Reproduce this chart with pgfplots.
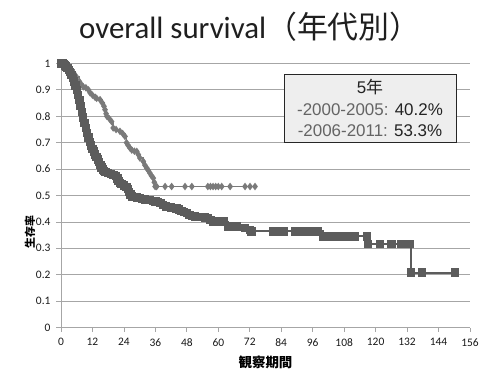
\documentclass[border=0pt]{standalone}
\usepackage{fontspec}
\setmainfont{Carlito}
\newfontfamily\cjk{Noto Sans CJK JP}
\newfontfamily\arial{Liberation Sans}
\usepackage{pgfplots}
\pgfplotsset{compat=1.18}
\definecolor{darkser}{RGB}{92,92,92}
\definecolor{lightser}{RGB}{122,122,122}
\definecolor{gridc}{RGB}{166,166,166}
\definecolor{boxfill}{RGB}{238,238,238}
\definecolor{txtgray}{RGB}{100,100,100}
\definecolor{txtdark}{RGB}{35,35,35}

\pgfplotstableread{
m s
0 1.0
0.5 1.0
1 0.997
1.5 0.993
2 0.988
2.5 0.983
3 0.976
3.5 0.967
4 0.957
4.5 0.946
5 0.932
5.5 0.917
6 0.9
6.5 0.881
7 0.861
7.5 0.84
8 0.816
8.5 0.795
9 0.775
9.5 0.755
10 0.736
10.5 0.72
11 0.702
11.5 0.69
12 0.677
12.5 0.666
13 0.656
13.5 0.646
14 0.636
14.5 0.626
15 0.616
15.5 0.606
16 0.598
16.5 0.592
17 0.589
18 0.585
19 0.582
20 0.578
21 0.574
21.5 0.565
22 0.555
22.5 0.547
23 0.543
24 0.538
25 0.532
25.5 0.524
26 0.514
26.5 0.504
27 0.496
28 0.494
29 0.492
30 0.49
31 0.487
32 0.485
33 0.484
34 0.482
35 0.48
36 0.478
37 0.475
38 0.471
39 0.463
40 0.458
41 0.456
42 0.455
43 0.453
44 0.451
45 0.447
46 0.442
47 0.437
48 0.433
49 0.427
50 0.423
51 0.42
53 0.418
55 0.416
56 0.414
57 0.408
58 0.401
60 0.401
62 0.401
63.8 0.383
65 0.383
67 0.383
70.2 0.376
72 0.37
72.7 0.364
81 0.364
82 0.364
83 0.364
85 0.364
89.3 0.364
92 0.364
94 0.364
96 0.364
98 0.364
100 0.345
102 0.345
104 0.345
106 0.345
108 0.345
110 0.345
112 0.345
116.6 0.345
117.2 0.316
121.7 0.316
126.1 0.316
129.9 0.316
133.1 0.316
133.4 0.208
137.6 0.208
150.3 0.208
}\earlydata

\pgfplotstableread{
m s
0 1
1 1
2 0.995
3 0.985
4 0.975
5 0.962
6 0.948
7 0.932
7.8 0.92
8.5 0.912
9.5 0.908
10.5 0.9
11.1 0.889
12 0.88
13 0.872
13.6 0.868
14.9 0.863
15.8 0.85
16.4 0.838
16.8 0.825
17.2 0.81
17.5 0.8
18.5 0.79
19.3 0.78
19.9 0.756
21 0.75
22.5 0.743
23.5 0.735
24.4 0.724
25 0.7
25.6 0.69
26.3 0.68
27 0.672
28 0.668
28.9 0.667
29.5 0.655
30.1 0.642
31.4 0.629
32 0.615
32.7 0.604
33.3 0.595
33.9 0.585
34.5 0.575
35.2 0.566
35.6 0.55
35.9 0.534
36.5 0.534
39.7 0.534
42.2 0.534
47.3 0.534
49.9 0.534
56 0.534
57 0.534
58 0.534
59 0.534
60 0.534
61.3 0.534
64.5 0.534
70.2 0.534
72.1 0.534
74 0.534
}\latedata

\begin{document}
\begin{tikzpicture}
\path[use as bounding box] (-61bp,-52.5bp) rectangle (439bp,327.5bp);
\begin{axis}[
  scale only axis, width=409bp, height=264bp,
  at={(0,0)}, anchor=south west,
  xmin=0, xmax=156, ymin=0, ymax=1,
  axis lines*=left,
  axis line style={gridc, line width=0.8bp, -},
  xtick={0,12,...,156},
  ytick={0,0.1,0.2,0.3,0.4,0.5,0.6,0.7,0.8,0.9,1},
  yticklabels={0,0.1,0.2,0.3,0.4,0.5,0.6,0.7,0.8,0.9,1},
  tick align=outside,
  major tick length=4.5bp,
  tick style={gridc, line width=0.8bp},
  ymajorgrids,
  grid style={gridc, line width=0.8bp},
  /pgf/number format/assume math mode=true,
  ticklabel style={font=\fontsize{11.5}{13}\selectfont, text=black!90},
  xticklabel style={yshift=-3bp},
  yticklabel style={xshift=-2.5bp},
  clip=false,
]
\addplot[const plot, color=lightser, line width=1.5bp, mark=diamond*, mark size=2.6bp, mark options={solid, fill=lightser}] table[x=m, y=s] {\latedata};
\addplot[const plot, color=darkser, line width=2bp, mark=square*, mark size=3.2bp, mark options={solid, fill=darkser}] table[x=m, y=s] {\earlydata};

\node[anchor=base west, inner sep=0, text=black!88] at (rel axis cs:0.04401,1.09280)
  {\fontsize{31}{36}\selectfont overall survival{\cjk （年代別）}};
\node[anchor=center, inner sep=0] at (rel axis cs:0.5,-0.13258)
  {\cjk\bfseries\fontsize{13.5}{16}\selectfont 観察期間};
\node[anchor=center, inner sep=0, rotate=90] at (rel axis cs:-0.07579,0.36174)
  {\cjk\bfseries\fontsize{11}{13}\selectfont 生存率};
\node[draw=black!85, line width=0.9bp, fill=boxfill, minimum width=172bp, minimum height=68bp, align=center, inner sep=2bp, font=\arial\fontsize{17}{22}\selectfont]
  at (rel axis cs:0.75550,0.83144)
  {\textcolor{txtdark}{5{\cjk 年}}\\
   \textcolor{txtgray}{-2000-2005:} \textcolor{txtdark}{40.2\%}\\
   \textcolor{txtgray}{-2006-2011:} \textcolor{txtdark}{53.3\%}};
\end{axis}
\end{tikzpicture}
\end{document}
